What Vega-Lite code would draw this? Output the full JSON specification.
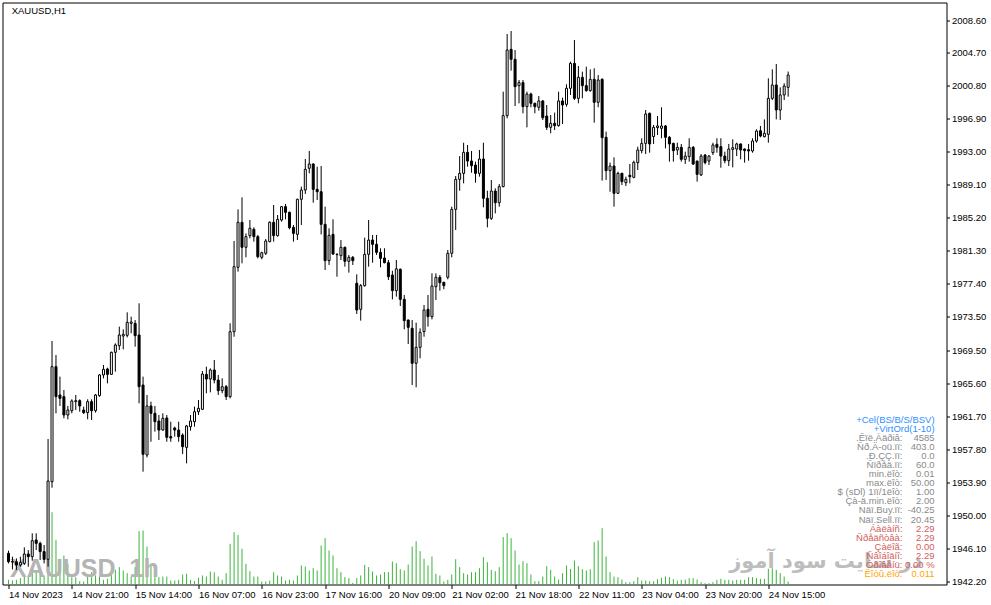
{
"$schema":"https://vega.github.io/schema/vega-lite/v6.json",
"width":944,"height":582,
"autosize":{"type":"none"},
"padding":{"left":2.5,"top":2.5,"right":44.5,"bottom":20.5},
"background":"#ffffff",
"config":{"view":{"stroke":"#000000","strokeWidth":1},"font":"Liberation Sans","axis":{"grid":false,"domain":false,"title":null}},
"data":{"values":[
{"i":0,"o":1945.48,"h":1945.79,"l":1944.29,"c":1944.49,"v":467},
{"i":1,"o":1944.49,"h":1945.08,"l":1943.58,"c":1944.45,"v":400},
{"i":2,"o":1944.49,"h":1944.88,"l":1943.51,"c":1944.10,"v":467},
{"i":3,"o":1944.10,"h":1945.08,"l":1943.90,"c":1944.41,"v":633},
{"i":4,"o":1944.29,"h":1946.19,"l":1944.10,"c":1945.40,"v":800},
{"i":5,"o":1945.40,"h":1945.87,"l":1943.90,"c":1945.08,"v":900},
{"i":6,"o":1945.08,"h":1947.85,"l":1944.61,"c":1946.98,"v":1467},
{"i":7,"o":1947.06,"h":1947.85,"l":1945.87,"c":1946.66,"v":1233},
{"i":8,"o":1946.66,"h":1946.86,"l":1944.69,"c":1945.68,"v":1567},
{"i":9,"o":1945.68,"h":1946.46,"l":1944.29,"c":1944.77,"v":900},
{"i":10,"o":1944.77,"h":1959.01,"l":1943.90,"c":1954.04,"v":2400},
{"i":11,"o":1953.96,"h":1970.61,"l":1953.25,"c":1967.57,"v":7233},
{"i":12,"o":1967.57,"h":1968.95,"l":1962.05,"c":1964.02,"v":4467},
{"i":13,"o":1964.22,"h":1966.39,"l":1962.92,"c":1963.82,"v":2567},
{"i":14,"o":1964.02,"h":1964.81,"l":1961.46,"c":1961.85,"v":2900},
{"i":15,"o":1961.85,"h":1962.92,"l":1961.34,"c":1962.44,"v":2067},
{"i":16,"o":1962.36,"h":1963.71,"l":1962.05,"c":1963.51,"v":733},
{"i":17,"o":1963.43,"h":1964.22,"l":1962.44,"c":1963.55,"v":733},
{"i":18,"o":1963.55,"h":1963.71,"l":1962.24,"c":1962.92,"v":333},
{"i":19,"o":1962.44,"h":1962.84,"l":1961.97,"c":1962.13,"v":300},
{"i":20,"o":1962.13,"h":1963.71,"l":1961.34,"c":1963.43,"v":800},
{"i":21,"o":1963.43,"h":1963.71,"l":1961.26,"c":1962.36,"v":1233},
{"i":22,"o":1962.36,"h":1964.34,"l":1962.13,"c":1964.22,"v":900},
{"i":23,"o":1964.14,"h":1966.70,"l":1964.02,"c":1966.59,"v":800},
{"i":24,"o":1966.59,"h":1967.77,"l":1966.19,"c":1967.26,"v":467},
{"i":25,"o":1967.30,"h":1967.45,"l":1965.60,"c":1966.66,"v":567},
{"i":26,"o":1966.66,"h":1969.35,"l":1966.59,"c":1969.27,"v":1067},
{"i":27,"o":1969.27,"h":1970.33,"l":1966.98,"c":1970.14,"v":1467},
{"i":28,"o":1970.06,"h":1972.31,"l":1969.54,"c":1971.32,"v":1733},
{"i":29,"o":1971.20,"h":1971.99,"l":1969.62,"c":1971.40,"v":1400},
{"i":30,"o":1971.28,"h":1974.00,"l":1971.04,"c":1972.82,"v":1133},
{"i":31,"o":1972.70,"h":1973.49,"l":1971.52,"c":1972.86,"v":800},
{"i":32,"o":1972.70,"h":1973.09,"l":1969.94,"c":1971.24,"v":1733},
{"i":33,"o":1971.32,"h":1975.07,"l":1963.23,"c":1965.20,"v":5333},
{"i":34,"o":1965.40,"h":1966.39,"l":1955.14,"c":1957.20,"v":5400},
{"i":35,"o":1957.12,"h":1964.22,"l":1956.84,"c":1962.92,"v":3800},
{"i":36,"o":1962.92,"h":1963.43,"l":1958.69,"c":1962.05,"v":2067},
{"i":37,"o":1962.05,"h":1962.92,"l":1959.88,"c":1961.06,"v":1400},
{"i":38,"o":1961.14,"h":1961.85,"l":1958.89,"c":1960.07,"v":733},
{"i":39,"o":1960.07,"h":1962.05,"l":1960.00,"c":1961.46,"v":800},
{"i":40,"o":1961.50,"h":1961.85,"l":1958.69,"c":1959.21,"v":800},
{"i":41,"o":1959.29,"h":1961.06,"l":1958.69,"c":1959.13,"v":400},
{"i":42,"o":1960.31,"h":1960.47,"l":1959.29,"c":1960.07,"v":400},
{"i":43,"o":1960.07,"h":1961.06,"l":1958.69,"c":1959.29,"v":467},
{"i":44,"o":1959.48,"h":1959.68,"l":1957.24,"c":1958.10,"v":1000},
{"i":45,"o":1958.02,"h":1960.67,"l":1956.13,"c":1960.55,"v":1067},
{"i":46,"o":1960.47,"h":1961.85,"l":1960.00,"c":1961.14,"v":467},
{"i":47,"o":1961.06,"h":1962.84,"l":1960.47,"c":1962.24,"v":333},
{"i":48,"o":1962.24,"h":1963.63,"l":1961.85,"c":1962.64,"v":667},
{"i":49,"o":1962.52,"h":1967.06,"l":1962.44,"c":1966.70,"v":900},
{"i":50,"o":1966.66,"h":1967.57,"l":1964.42,"c":1966.11,"v":800},
{"i":51,"o":1966.11,"h":1967.37,"l":1964.53,"c":1967.18,"v":1300},
{"i":52,"o":1967.18,"h":1968.36,"l":1965.60,"c":1965.99,"v":1233},
{"i":53,"o":1965.99,"h":1966.59,"l":1964.22,"c":1964.73,"v":800},
{"i":54,"o":1964.73,"h":1966.19,"l":1964.42,"c":1965.20,"v":467},
{"i":55,"o":1965.20,"h":1965.40,"l":1963.63,"c":1964.02,"v":1133},
{"i":56,"o":1964.02,"h":1972.70,"l":1963.82,"c":1971.71,"v":4067},
{"i":57,"o":1971.71,"h":1982.45,"l":1971.12,"c":1979.41,"v":5233},
{"i":58,"o":1979.33,"h":1986.19,"l":1978.82,"c":1984.66,"v":4967},
{"i":59,"o":1984.66,"h":1987.61,"l":1979.80,"c":1981.70,"v":3567},
{"i":60,"o":1981.70,"h":1983.35,"l":1980.51,"c":1982.96,"v":2067},
{"i":61,"o":1983.08,"h":1984.93,"l":1982.76,"c":1983.95,"v":1333},
{"i":62,"o":1983.83,"h":1984.06,"l":1982.37,"c":1982.96,"v":800},
{"i":63,"o":1982.96,"h":1983.16,"l":1980.39,"c":1980.59,"v":800},
{"i":64,"o":1980.51,"h":1981.18,"l":1980.28,"c":1981.06,"v":300},
{"i":65,"o":1980.99,"h":1982.68,"l":1980.79,"c":1982.45,"v":300},
{"i":66,"o":1982.37,"h":1984.77,"l":1982.29,"c":1984.66,"v":400},
{"i":67,"o":1984.66,"h":1986.71,"l":1982.37,"c":1983.08,"v":1233},
{"i":68,"o":1983.08,"h":1985.52,"l":1982.96,"c":1985.01,"v":900},
{"i":69,"o":1984.93,"h":1986.59,"l":1984.73,"c":1986.51,"v":800},
{"i":70,"o":1986.51,"h":1986.83,"l":1985.01,"c":1985.84,"v":400},
{"i":71,"o":1985.84,"h":1985.92,"l":1983.83,"c":1984.02,"v":467},
{"i":72,"o":1984.06,"h":1984.34,"l":1982.37,"c":1983.35,"v":400},
{"i":73,"o":1983.23,"h":1987.45,"l":1982.56,"c":1987.38,"v":900},
{"i":74,"o":1987.38,"h":1988.88,"l":1984.34,"c":1988.48,"v":1900},
{"i":75,"o":1988.48,"h":1992.15,"l":1988.01,"c":1990.93,"v":1800},
{"i":76,"o":1991.05,"h":1993.10,"l":1990.45,"c":1991.56,"v":1400},
{"i":77,"o":1991.56,"h":1991.64,"l":1986.98,"c":1988.56,"v":1633},
{"i":78,"o":1988.56,"h":1991.24,"l":1987.30,"c":1988.28,"v":1400},
{"i":79,"o":1988.28,"h":1991.32,"l":1983.23,"c":1984.42,"v":3900},
{"i":80,"o":1984.42,"h":1986.51,"l":1979.01,"c":1980.12,"v":4633},
{"i":81,"o":1980.12,"h":1983.95,"l":1979.61,"c":1983.12,"v":3400},
{"i":82,"o":1983.23,"h":1985.01,"l":1980.79,"c":1980.91,"v":2900},
{"i":83,"o":1980.83,"h":1980.99,"l":1978.22,"c":1980.87,"v":1633},
{"i":84,"o":1980.71,"h":1982.56,"l":1980.20,"c":1981.70,"v":1233},
{"i":85,"o":1981.70,"h":1981.78,"l":1979.41,"c":1980.04,"v":733},
{"i":86,"o":1980.04,"h":1980.79,"l":1978.70,"c":1980.51,"v":633},
{"i":87,"o":1980.51,"h":1980.67,"l":1979.61,"c":1980.12,"v":167},
{"i":88,"o":1977.44,"h":1978.50,"l":1973.81,"c":1974.28,"v":633},
{"i":89,"o":1974.36,"h":1977.36,"l":1973.02,"c":1977.16,"v":900},
{"i":90,"o":1977.16,"h":1982.84,"l":1977.04,"c":1980.87,"v":1967},
{"i":91,"o":1980.87,"h":1984.93,"l":1979.41,"c":1982.56,"v":1733},
{"i":92,"o":1982.56,"h":1983.16,"l":1979.88,"c":1982.05,"v":1300},
{"i":93,"o":1982.05,"h":1983.16,"l":1980.79,"c":1981.10,"v":900},
{"i":94,"o":1981.10,"h":1981.58,"l":1979.33,"c":1980.39,"v":1000},
{"i":95,"o":1980.43,"h":1981.58,"l":1979.80,"c":1979.88,"v":1233},
{"i":96,"o":1979.88,"h":1980.20,"l":1977.83,"c":1978.22,"v":1233},
{"i":97,"o":1978.42,"h":1978.93,"l":1975.54,"c":1976.57,"v":2300},
{"i":98,"o":1976.57,"h":1980.20,"l":1975.86,"c":1979.15,"v":2133},
{"i":99,"o":1979.09,"h":1979.21,"l":1974.75,"c":1975.54,"v":1533},
{"i":100,"o":1975.54,"h":1976.05,"l":1971.99,"c":1973.02,"v":1400},
{"i":101,"o":1973.09,"h":1973.15,"l":1970.25,"c":1972.23,"v":2000},
{"i":102,"o":1972.11,"h":1973.09,"l":1965.40,"c":1967.97,"v":3800},
{"i":103,"o":1967.97,"h":1972.78,"l":1965.13,"c":1969.86,"v":4333},
{"i":104,"o":1969.86,"h":1972.11,"l":1968.56,"c":1971.64,"v":3333},
{"i":105,"o":1971.72,"h":1974.87,"l":1971.12,"c":1974.28,"v":2567},
{"i":106,"o":1974.36,"h":1976.05,"l":1972.31,"c":1973.49,"v":1900},
{"i":107,"o":1973.49,"h":1978.62,"l":1973.17,"c":1977.12,"v":2800},
{"i":108,"o":1977.04,"h":1978.62,"l":1975.46,"c":1978.15,"v":1067},
{"i":109,"o":1978.15,"h":1978.42,"l":1976.57,"c":1977.51,"v":900},
{"i":110,"o":1977.55,"h":1977.63,"l":1976.73,"c":1977.16,"v":300},
{"i":111,"o":1978.15,"h":1981.38,"l":1977.91,"c":1980.99,"v":467},
{"i":112,"o":1980.99,"h":1986.51,"l":1980.51,"c":1986.19,"v":1000},
{"i":113,"o":1986.19,"h":1990.14,"l":1983.75,"c":1989.74,"v":2533},
{"i":114,"o":1989.74,"h":1992.50,"l":1988.40,"c":1990.45,"v":1733},
{"i":115,"o":1990.45,"h":1994.08,"l":1989.27,"c":1992.94,"v":1133},
{"i":116,"o":1992.94,"h":1993.81,"l":1991.24,"c":1991.91,"v":1000},
{"i":117,"o":1991.91,"h":1993.10,"l":1990.53,"c":1991.36,"v":1233},
{"i":118,"o":1991.44,"h":1991.84,"l":1989.35,"c":1990.45,"v":1233},
{"i":119,"o":1990.45,"h":1993.22,"l":1990.06,"c":1992.15,"v":1633},
{"i":120,"o":1992.15,"h":1994.08,"l":1986.43,"c":1987.50,"v":2733},
{"i":121,"o":1987.50,"h":1988.40,"l":1984.06,"c":1985.13,"v":2233},
{"i":122,"o":1985.13,"h":1989.66,"l":1984.93,"c":1988.36,"v":1467},
{"i":123,"o":1988.36,"h":1988.68,"l":1985.72,"c":1986.98,"v":1333},
{"i":124,"o":1986.98,"h":1989.19,"l":1986.51,"c":1988.88,"v":1733},
{"i":125,"o":1988.88,"h":2000.12,"l":1988.80,"c":1997.28,"v":4733},
{"i":126,"o":1997.28,"h":2006.95,"l":1996.96,"c":2005.05,"v":5133},
{"i":127,"o":2005.13,"h":2007.30,"l":2002.61,"c":2003.95,"v":4633},
{"i":128,"o":2003.95,"h":2005.05,"l":1998.42,"c":2000.71,"v":3400},
{"i":129,"o":2000.83,"h":2001.50,"l":1998.74,"c":2001.19,"v":2000},
{"i":130,"o":2001.19,"h":2001.50,"l":1997.56,"c":1998.35,"v":2333},
{"i":131,"o":1998.35,"h":2000.12,"l":1995.90,"c":1999.84,"v":2133},
{"i":132,"o":1999.84,"h":2000.00,"l":1998.27,"c":1998.74,"v":1000},
{"i":133,"o":1998.74,"h":1998.82,"l":1997.56,"c":1998.35,"v":333},
{"i":134,"o":1998.27,"h":1999.61,"l":1997.87,"c":1999.02,"v":333},
{"i":135,"o":1999.02,"h":1999.13,"l":1996.77,"c":1997.04,"v":800},
{"i":136,"o":1997.24,"h":1998.54,"l":1995.58,"c":1995.90,"v":1833},
{"i":137,"o":1995.90,"h":1997.36,"l":1995.19,"c":1996.37,"v":1467},
{"i":138,"o":1996.37,"h":1997.64,"l":1995.58,"c":1996.10,"v":800},
{"i":139,"o":1996.10,"h":2000.12,"l":1995.98,"c":1999.02,"v":500},
{"i":140,"o":1999.02,"h":1999.41,"l":1996.29,"c":1998.54,"v":1133},
{"i":141,"o":1998.62,"h":2000.99,"l":1998.35,"c":2000.52,"v":1900},
{"i":142,"o":2000.52,"h":2003.67,"l":1999.73,"c":2003.47,"v":1567},
{"i":143,"o":2003.47,"h":2006.24,"l":1999.13,"c":1999.33,"v":2400},
{"i":144,"o":1999.33,"h":2003.16,"l":1998.74,"c":2001.82,"v":1833},
{"i":145,"o":2001.82,"h":2002.49,"l":1999.33,"c":2000.83,"v":1533},
{"i":146,"o":2000.83,"h":2003.08,"l":2000.12,"c":2000.24,"v":1400},
{"i":147,"o":2000.24,"h":2002.76,"l":2000.12,"c":2001.58,"v":1533},
{"i":148,"o":2001.58,"h":2002.88,"l":1996.45,"c":1998.86,"v":4233},
{"i":149,"o":1998.86,"h":2002.09,"l":1998.27,"c":2001.50,"v":4400},
{"i":150,"o":2001.58,"h":2001.70,"l":1989.59,"c":1994.68,"v":5633},
{"i":151,"o":1994.72,"h":1995.39,"l":1989.67,"c":1990.77,"v":2800},
{"i":152,"o":1990.77,"h":1991.72,"l":1988.28,"c":1991.32,"v":1233},
{"i":153,"o":1991.32,"h":1992.35,"l":1986.51,"c":1988.09,"v":800},
{"i":154,"o":1988.09,"h":1990.65,"l":1988.01,"c":1990.45,"v":733},
{"i":155,"o":1990.45,"h":1990.53,"l":1989.07,"c":1989.47,"v":500},
{"i":156,"o":1989.35,"h":1990.06,"l":1988.95,"c":1989.74,"v":233},
{"i":157,"o":1990.22,"h":1991.56,"l":1989.27,"c":1990.06,"v":233},
{"i":158,"o":1989.98,"h":1991.95,"l":1989.86,"c":1991.76,"v":333},
{"i":159,"o":1991.72,"h":1993.61,"l":1990.85,"c":1993.22,"v":733},
{"i":160,"o":1993.14,"h":1994.60,"l":1992.82,"c":1994.00,"v":400},
{"i":161,"o":1994.00,"h":1997.95,"l":1992.74,"c":1997.48,"v":400},
{"i":162,"o":1997.56,"h":1997.64,"l":1992.90,"c":1993.93,"v":333},
{"i":163,"o":1994.81,"h":1996.18,"l":1993.93,"c":1995.90,"v":333},
{"i":164,"o":1995.86,"h":1997.24,"l":1994.99,"c":1996.06,"v":533},
{"i":165,"o":1995.78,"h":1998.27,"l":1994.60,"c":1996.06,"v":667},
{"i":166,"o":1996.06,"h":1996.18,"l":1993.41,"c":1994.72,"v":800},
{"i":167,"o":1994.72,"h":1994.87,"l":1991.84,"c":1993.93,"v":733},
{"i":168,"o":1994.00,"h":1994.08,"l":1991.84,"c":1993.14,"v":533},
{"i":169,"o":1993.22,"h":1994.08,"l":1992.62,"c":1993.53,"v":400},
{"i":170,"o":1993.53,"h":1993.93,"l":1991.84,"c":1992.11,"v":467},
{"i":171,"o":1992.11,"h":1993.02,"l":1991.56,"c":1992.50,"v":500},
{"i":172,"o":1992.43,"h":1994.60,"l":1991.84,"c":1993.53,"v":633},
{"i":173,"o":1993.53,"h":1993.69,"l":1991.44,"c":1991.56,"v":633},
{"i":174,"o":1991.91,"h":1991.95,"l":1989.47,"c":1990.34,"v":500},
{"i":175,"o":1990.26,"h":1992.74,"l":1990.14,"c":1992.50,"v":233},
{"i":176,"o":1992.62,"h":1992.74,"l":1991.52,"c":1991.72,"v":133},
{"i":177,"o":1991.91,"h":1992.62,"l":1991.44,"c":1992.50,"v":133},
{"i":178,"o":1992.90,"h":1994.08,"l":1992.62,"c":1993.81,"v":233},
{"i":179,"o":1993.89,"h":1994.60,"l":1992.90,"c":1993.53,"v":467},
{"i":180,"o":1993.61,"h":1994.60,"l":1991.12,"c":1992.50,"v":567},
{"i":181,"o":1992.50,"h":1993.02,"l":1991.64,"c":1991.95,"v":467},
{"i":182,"o":1991.95,"h":1993.93,"l":1991.32,"c":1993.33,"v":467},
{"i":183,"o":1993.29,"h":1994.48,"l":1991.16,"c":1993.49,"v":400},
{"i":184,"o":1993.33,"h":1994.08,"l":1992.50,"c":1993.93,"v":467},
{"i":185,"o":1993.93,"h":1994.00,"l":1992.11,"c":1993.22,"v":467},
{"i":186,"o":1993.33,"h":1993.41,"l":1991.72,"c":1993.14,"v":467},
{"i":187,"o":1993.25,"h":1993.93,"l":1991.95,"c":1993.10,"v":733},
{"i":188,"o":1993.10,"h":1994.60,"l":1992.90,"c":1994.28,"v":733},
{"i":189,"o":1994.28,"h":1995.66,"l":1994.08,"c":1995.46,"v":633},
{"i":190,"o":1995.50,"h":1996.06,"l":1994.72,"c":1994.87,"v":567},
{"i":191,"o":1994.79,"h":1996.84,"l":1994.72,"c":1995.19,"v":567},
{"i":192,"o":1995.07,"h":2001.70,"l":1994.08,"c":1999.33,"v":1567},
{"i":193,"o":1999.33,"h":2002.76,"l":1999.13,"c":2000.91,"v":1633},
{"i":194,"o":2000.91,"h":2003.40,"l":1996.84,"c":1997.95,"v":1467},
{"i":195,"o":1997.95,"h":2000.63,"l":1996.77,"c":1999.73,"v":1133},
{"i":196,"o":1999.73,"h":2001.11,"l":1999.13,"c":2000.79,"v":800},
{"i":197,"o":2000.63,"h":2002.50,"l":1999.53,"c":2002.09,"v":300}
]},
"layer":[
{"mark":{"type":"rule","color":"#3cb43c","strokeWidth":1},
 "encoding":{
  "x":{"field":"i","type":"quantitative","scale":{"domain":[-0.25,235.75],"nice":false,"zero":false},
       "axis":{"values":[0,16,32,48,64,80,96,112,128,144,160,176,192],"labelExpr":"['14 Nov 2023','14 Nov 21:00','15 Nov 14:00','16 Nov 07:00','16 Nov 23:00','17 Nov 16:00','20 Nov 09:00','21 Nov 02:00','21 Nov 18:00','22 Nov 11:00','23 Nov 04:00','23 Nov 20:00','24 Nov 15:00'][round(datum.value/16)]","labelAlign":"left","labelBaseline":"top","labelPadding":1,"tickSize":4,"tickColor":"#000000","labelColor":"#000000","labelFont":"Liberation Sans","labelFontSize":9.5,"labelOverlap":false,"labelFlush":false}},
  "y":{"field":"v","type":"quantitative","scale":{"domain":[0,58200],"nice":false,"zero":true},"axis":null},
  "y2":{"datum":0}}},
{"layer":[
 {"data":{"values":[{}]},
  "mark":{"type":"text","text":"XAUUSD","font":"Liberation Sans","fontWeight":"bold","fontSize":25,"color":"#b4b4b4","align":"left","baseline":"alphabetic"},
  "encoding":{"x":{"datum":0.375,"type":"quantitative"},"y":{"datum":1942.68,"type":"quantitative","scale":{"domain":[1941.79,2010.674],"nice":false,"zero":false},"axis":{"orient":"right","values":[1942.2,1946.1,1950,1953.9,1957.8,1961.7,1965.6,1969.5,1973.5,1977.4,1981.3,1985.2,1989.1,1993,1996.9,2000.8,2004.7,2008.6],"format":".2f","tickSize":3,"tickColor":"#000000","labelColor":"#000000","labelFont":"Liberation Sans","labelFontSize":9.5,"labelPadding":2,"labelFlush":false,"labelOverlap":false}}}},
 {"data":{"values":[{}]},
  "mark":{"type":"text","text":"1h","font":"Liberation Sans","fontWeight":"bold","fontSize":25,"color":"#b4b4b4","align":"left","baseline":"alphabetic"},
  "encoding":{"x":{"datum":30.6,"type":"quantitative"},"y":{"datum":1942.68,"type":"quantitative","scale":{"domain":[1941.79,2010.674],"nice":false,"zero":false},"axis":{"orient":"right","values":[1942.2,1946.1,1950,1953.9,1957.8,1961.7,1965.6,1969.5,1973.5,1977.4,1981.3,1985.2,1989.1,1993,1996.9,2000.8,2004.7,2008.6],"format":".2f","tickSize":3,"tickColor":"#000000","labelColor":"#000000","labelFont":"Liberation Sans","labelFontSize":9.5,"labelPadding":2,"labelFlush":false,"labelOverlap":false}}}},
 {"data":{"values":[{}]},
  "mark":{"type":"text","text":"در سایت سود آموز","font":"DejaVu Sans","fontWeight":"bold","fontSize":21,"color":"#bdbdbd","align":"left","baseline":"alphabetic"},
  "encoding":{"x":{"datum":182.1,"type":"quantitative"},"y":{"datum":1943.74,"type":"quantitative","scale":{"domain":[1941.79,2010.674],"nice":false,"zero":false},"axis":{"orient":"right","values":[1942.2,1946.1,1950,1953.9,1957.8,1961.7,1965.6,1969.5,1973.5,1977.4,1981.3,1985.2,1989.1,1993,1996.9,2000.8,2004.7,2008.6],"format":".2f","tickSize":3,"tickColor":"#000000","labelColor":"#000000","labelFont":"Liberation Sans","labelFontSize":9.5,"labelPadding":2,"labelFlush":false,"labelOverlap":false}}}},
 {"mark":{"type":"rule","color":"#000000","strokeWidth":1},
  "encoding":{
   "x":{"field":"i","type":"quantitative"},
   "y":{"field":"l","type":"quantitative","scale":{"domain":[1941.79,2010.674],"nice":false,"zero":false},"axis":{"orient":"right","values":[1942.2,1946.1,1950,1953.9,1957.8,1961.7,1965.6,1969.5,1973.5,1977.4,1981.3,1985.2,1989.1,1993,1996.9,2000.8,2004.7,2008.6],"format":".2f","tickSize":3,"tickColor":"#000000","labelColor":"#000000","labelFont":"Liberation Sans","labelFontSize":9.5,"labelPadding":2,"labelFlush":false,"labelOverlap":false}},
   "y2":{"field":"h"}}},
 {"mark":{"type":"bar","width":2,"stroke":"#000000","strokeWidth":1},
  "encoding":{
   "x":{"field":"i","type":"quantitative"},
   "y":{"field":"o","type":"quantitative","scale":{"domain":[1941.79,2010.674],"nice":false,"zero":false},"axis":{"orient":"right","values":[1942.2,1946.1,1950,1953.9,1957.8,1961.7,1965.6,1969.5,1973.5,1977.4,1981.3,1985.2,1989.1,1993,1996.9,2000.8,2004.7,2008.6],"format":".2f","tickSize":3,"tickColor":"#000000","labelColor":"#000000","labelFont":"Liberation Sans","labelFontSize":9.5,"labelPadding":2,"labelFlush":false,"labelOverlap":false}},
   "y2":{"field":"c"},
   "fill":{"condition":{"test":"datum.c >= datum.o","value":"#ffffff"},"value":"#000000"}}},
 {"data":{"values":[{}]},
  "mark":{"type":"text","text":"XAUUSD,H1","font":"Liberation Sans","fontSize":9.5,"color":"#000000","align":"left","baseline":"middle"},
  "encoding":{"x":{"datum":0.8,"type":"quantitative"},"y":{"datum":2009.67,"type":"quantitative","scale":{"domain":[1941.79,2010.674],"nice":false,"zero":false},"axis":{"orient":"right","values":[1942.2,1946.1,1950,1953.9,1957.8,1961.7,1965.6,1969.5,1973.5,1977.4,1981.3,1985.2,1989.1,1993,1996.9,2000.8,2004.7,2008.6],"format":".2f","tickSize":3,"tickColor":"#000000","labelColor":"#000000","labelFont":"Liberation Sans","labelFontSize":9.5,"labelPadding":2,"labelFlush":false,"labelOverlap":false}}}}
]},
{"data":{"values":[
 {"row":0,"kind":"header","label":"","value":"+Cel(BS/B/S/BSV)"},
 {"row":1,"kind":"header","label":"","value":"+VirtOrd(1-10)"},
 {"row":2,"kind":"param","label":".Êïë.Àäðiâ:","value":"4585"},
 {"row":3,"kind":"param","label":"Ñð.Ä-oü.ïï:","value":"403.0"},
 {"row":4,"kind":"param","label":".Ð.ÇÇ.ïï:","value":"0.0"},
 {"row":5,"kind":"param","label":"Ñïðåä.ïï:","value":"60.0"},
 {"row":6,"kind":"param","label":"min.ëîò:","value":"0.01"},
 {"row":7,"kind":"param","label":"max.ëîò:","value":"50.00"},
 {"row":8,"kind":"param","label":"$ (sDl) 1ïï/1ëîò:","value":"1.00"},
 {"row":9,"kind":"param","label":"Çà-ä.min.ëîò:","value":"2.00"},
 {"row":10,"kind":"param","label":"Näï.Buy.ïï:","value":"-40.25"},
 {"row":11,"kind":"param","label":"Näï.Sell.ïï:","value":"20.45"},
 {"row":12,"kind":"account","label":"Áàëàíñ:","value":"2.29"},
 {"row":13,"kind":"account","label":"Ñðåäñòâà:","value":"2.29"},
 {"row":14,"kind":"account","label":"Çàëîã:","value":"0.00"},
 {"row":15,"kind":"account","label":"Ñâîáîäíî:","value":"2.29"},
 {"row":16,"kind":"account","label":"Óðîâåíü:","value":"0.00 %"},
 {"row":17,"kind":"lots","label":"Ëîòû.ëîò:","value":"0.011"}
]},
 "layer":[
 {"mark":{"type":"text","font":"Liberation Sans","fontSize":9.5,"align":"right","baseline":"middle"},
  "encoding":{
   "x":{"datum":225.9,"type":"quantitative"},
   "y":{"field":"row","type":"quantitative","scale":{"domain":[-46.13,18.18],"nice":false,"zero":false,"reverse":true},"axis":null},
   "text":{"field":"label"},
   "color":{"field":"kind","type":"nominal","scale":{"domain":["header","param","account","lots"],"range":["#2f8fff","#8a8a8a","#d06060","#ffa500"]},"legend":null}}},
 {"mark":{"type":"text","font":"Liberation Sans","fontSize":9.5,"align":"right","baseline":"middle"},
  "encoding":{
   "x":{"datum":234,"type":"quantitative"},
   "y":{"field":"row","type":"quantitative","scale":{"domain":[-46.13,18.18],"nice":false,"zero":false,"reverse":true},"axis":null},
   "text":{"field":"value"},
   "color":{"field":"kind","type":"nominal","scale":{"domain":["header","param","account","lots"],"range":["#2f8fff","#8a8a8a","#d06060","#ffa500"]},"legend":null}}}
 ]}
],
"resolve":{"scale":{"y":"independent"}}
}
